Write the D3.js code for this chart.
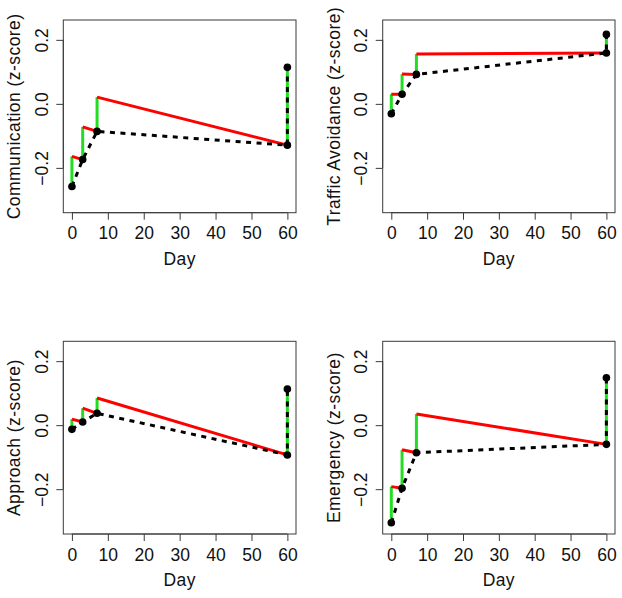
<!DOCTYPE html>
<html>
<head>
<meta charset="utf-8">
<script src="https://cdn.jsdelivr.net/npm/d3@7"></script>
<style>
  html, body { margin: 0; padding: 0; background: #fff; }
  svg { display: block; }
  text { font-family: "Liberation Sans", Arial, sans-serif; }
</style>
</head>
<body>
<svg id="chart" width="622" height="598"></svg>
<script>
// ---- data ----
const days = [0, 3, 7, 60];            // measurement days; day 60 has two observations
const panelTitles = ["Communication (z-score)", "Traffic Avoidance (z-score)",
                     "Approach (z-score)", "Emergency (z-score)"];
// observed values: day0, day3, day7, day60 (before), day60 (after)
const communicationObs = [-0.258, -0.174, -0.086, -0.129, 0.114];
const trafficObs       = [-0.031, 0.030, 0.092, 0.159, 0.217];
const approachObs      = [-0.013, 0.010, 0.037, -0.093, 0.113];
const emergencyObs     = [-0.305, -0.197, -0.086, -0.060, 0.148];
// top of each green jump at day 0, 3, 7
const communicationPeak = [-0.164, -0.072, 0.021];
const trafficPeak       = [0.030, 0.093, 0.156];
const approachPeak      = [0.019, 0.053, 0.085];
const emergencyPeak     = [-0.192, -0.077, 0.035];
const xTicks = [0, 10, 20, 30, 40, 50, 60];
const yTicks = [-0.2, 0.0, 0.2];
const xLabel = "Day";

// ---- layout ----
const boxes = [
  {x0: 63.3, x1: 296, y0: 20, y1: 212.7},
  {x0: 382.7, x1: 615, y0: 20, y1: 212.7},
  {x0: 63.3, x1: 296, y0: 341.3, y1: 534},
  {x0: 382.7, x1: 615, y0: 341.3, y1: 534}
];
const obsList = [communicationObs, trafficObs, approachObs, emergencyObs];
const peakList = [communicationPeak, trafficPeak, approachPeak, emergencyPeak];

const svg = d3.select("#chart");
const RED = "#ff0000", GREEN = "#22dd22", AXIS = "#3a3a3a";
const FS = 17.5;

boxes.forEach((b, i) => {
  const obs = obsList[i], peak = peakList[i];
  const x = d3.scaleLinear().domain([-2.4, 62.4]).range([b.x0, b.x1]);
  const y = d3.scaleLinear().domain([-0.34, 0.262]).range([b.y1, b.y0]);
  const g = svg.append("g");

  const pts = [[days[0], obs[0]], [days[1], obs[1]], [days[2], obs[2]],
               [days[3], obs[3]], [days[3], obs[4]]];

  // green jumps
  const greens = [
    [days[0], obs[0], peak[0]],
    [days[1], obs[1], peak[1]],
    [days[2], obs[2], peak[2]],
    [days[3], obs[3], obs[4]]
  ];
  g.selectAll("line.green").data(greens).join("line")
    .attr("class", "green")
    .attr("x1", d => x(d[0])).attr("x2", d => x(d[0]))
    .attr("y1", d => y(d[1])).attr("y2", d => y(d[2]))
    .attr("stroke", GREEN).attr("stroke-width", 3);

  // red decay segments
  const reds = [0, 1, 2].map(k => [days[k], peak[k], days[k + 1], obs[k + 1]]);
  g.selectAll("line.red").data(reds).join("line")
    .attr("class", "red")
    .attr("x1", d => x(d[0])).attr("y1", d => y(d[1]))
    .attr("x2", d => x(d[2])).attr("y2", d => y(d[3]))
    .attr("stroke", RED).attr("stroke-width", 3);

  // black dashed line through observations
  g.append("path")
    .attr("d", d3.line().x(d => x(d[0])).y(d => y(d[1]))(pts))
    .attr("fill", "none").attr("stroke", "#000").attr("stroke-width", 3)
    .attr("stroke-dasharray", "5,5.5");

  g.selectAll("circle").data(pts).join("circle")
    .attr("cx", d => x(d[0])).attr("cy", d => y(d[1])).attr("r", 3.8)
    .attr("fill", "#000");

  // box
  g.append("rect").attr("x", b.x0).attr("y", b.y0)
    .attr("width", b.x1 - b.x0).attr("height", b.y1 - b.y0)
    .attr("fill", "none").attr("stroke", AXIS).attr("stroke-width", 1);

  // x axis
  const xa = g.append("g").attr("transform", `translate(0,${b.y1})`)
    .call(d3.axisBottom(x).tickValues(xTicks).tickSize(7).tickPadding(0).tickFormat(d3.format("d")));
  xa.select(".domain").attr("stroke", AXIS).attr("d", `M${x(0)},0H${x(60)}`);
  xa.selectAll(".tick line").attr("stroke", AXIS);
  xa.selectAll(".tick text").attr("y", 26.5).attr("dy", null)
    .attr("font-size", FS).attr("fill", "#111")
    .style("font-family", "'Liberation Sans', Arial, sans-serif");

  // y axis
  const ya = g.append("g").attr("transform", `translate(${b.x0},0)`)
    .call(d3.axisLeft(y).tickValues(yTicks).tickSize(7).tickFormat(d3.format(".1f")));
  ya.select(".domain").attr("stroke", AXIS).attr("d", `M0,${y(-0.2)}V${y(0.2)}`);
  ya.selectAll(".tick line").attr("stroke", AXIS);
  ya.selectAll(".tick text")
    .attr("x", null).attr("dy", null)
    .attr("text-anchor", "middle")
    .attr("transform", "translate(-15.6,0) rotate(-90)")
    .attr("font-size", FS).attr("fill", "#111")
    .style("font-family", "'Liberation Sans', Arial, sans-serif");

  // axis titles
  g.append("text").attr("x", (b.x0 + b.x1) / 2).attr("y", b.y1 + 52.3)
    .attr("text-anchor", "middle").attr("font-size", FS).attr("fill", "#111")
    .attr("letter-spacing", 0.4)
    .text(xLabel);
  g.append("text")
    .attr("transform", `translate(${b.x0 - 43},${(b.y0 + b.y1) / 2}) rotate(-90)`)
    .attr("text-anchor", "middle").attr("font-size", FS).attr("fill", "#111")
    .attr("letter-spacing", 0.45)
    .text(panelTitles[i]);
});
</script>
</body>
</html>
